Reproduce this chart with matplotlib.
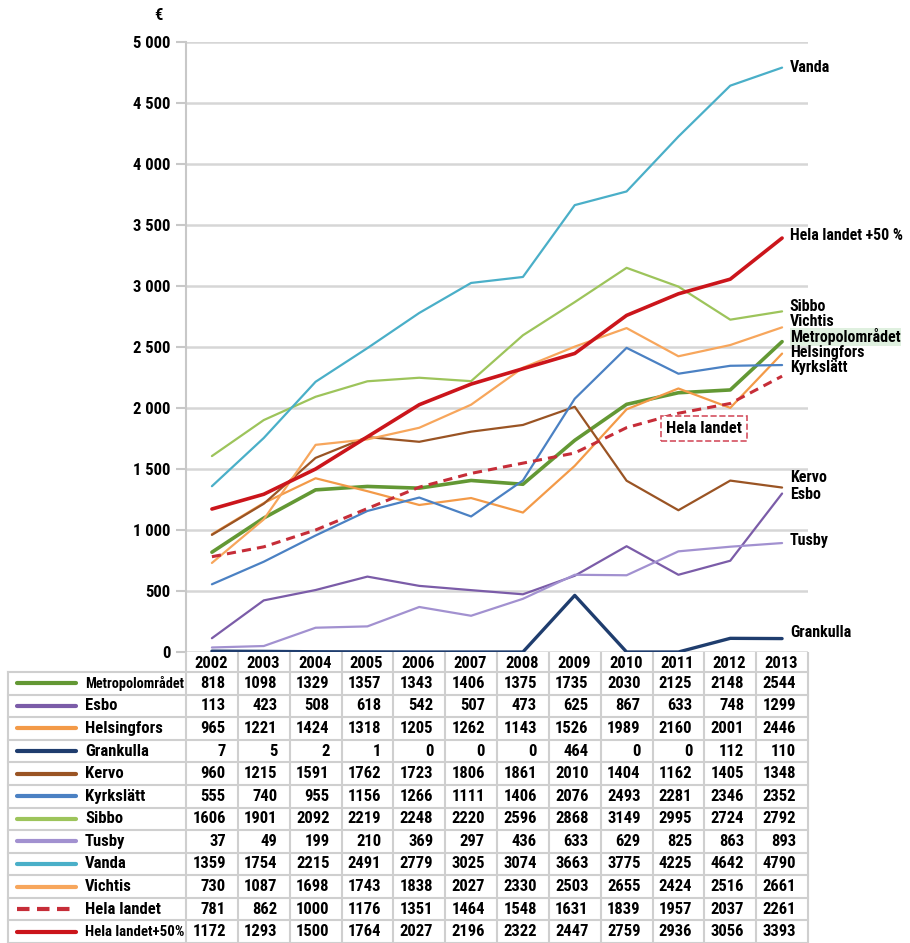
import numpy as np
import matplotlib.pyplot as plt
from matplotlib import font_manager
from matplotlib.lines import Line2D

# pick the narrowest sans family that is installed
have = {f.name for f in font_manager.fontManager.ttflist}
main_font = 'DejaVu Sans'
for cand in ['Liberation Sans Narrow', 'Roboto Condensed', 'DejaVu Sans Condensed',
             'Open Sans Condensed', 'Roboto']:
    if cand in have:
        main_font = cand
        break
FONT = [main_font, 'DejaVu Sans']
plt.rcParams['font.family'] = FONT
plt.rcParams['font.weight'] = 'bold'

years = list(range(2002, 2014))

# yearly values per municipality (€)
metro = [818, 1098, 1329, 1357, 1343, 1406, 1375, 1735, 2030, 2125, 2148, 2544]
esbo = [113, 423, 508, 618, 542, 507, 473, 625, 867, 633, 748, 1299]
helsingfors = [965, 1221, 1424, 1318, 1205, 1262, 1143, 1526, 1989, 2160, 2001, 2446]
grankulla = [7, 5, 2, 1, 0, 0, 0, 464, 0, 0, 112, 110]
kervo = [960, 1215, 1591, 1762, 1723, 1806, 1861, 2010, 1404, 1162, 1405, 1348]
kyrkslatt = [555, 740, 955, 1156, 1266, 1111, 1406, 2076, 2493, 2281, 2346, 2352]
sibbo = [1606, 1901, 2092, 2219, 2248, 2220, 2596, 2868, 3149, 2995, 2724, 2792]
tusby = [37, 49, 199, 210, 369, 297, 436, 633, 629, 825, 863, 893]
vanda = [1359, 1754, 2215, 2491, 2779, 3025, 3074, 3663, 3775, 4225, 4642, 4790]
vichtis = [730, 1087, 1698, 1743, 1838, 2027, 2330, 2503, 2655, 2424, 2516, 2661]
hela = [781, 862, 1000, 1176, 1351, 1464, 1548, 1631, 1839, 1957, 2037, 2261]
hela50 = [1172, 1293, 1500, 1764, 2027, 2196, 2322, 2447, 2759, 2936, 3056, 3393]

names = ["Metropolområdet", "Esbo", "Helsingfors", "Grankulla", "Kervo", "Kyrkslätt",
         "Sibbo", "Tusby", "Vanda", "Vichtis", "Hela landet", "Hela landet+50%"]
values = [metro, esbo, helsingfors, grankulla, kervo, kyrkslatt,
          sibbo, tusby, vanda, vichtis, hela, hela50]

colors = ['#639834', '#7b5ca8', '#f39a48', '#1f3d6e', '#9a5424', '#4b81c3',
          '#9dc45b', '#a291d0', '#4aafc8', '#f7a65c', '#c62d38', '#cb151b']
styles = ['-'] * 10 + ['--', '-']
widths = [2.6, 1.6, 1.6, 2.4, 1.6, 1.6, 1.6, 1.6, 1.6, 1.6, 2.2, 2.6]

# end labels on the right side of the chart: (text, y position)
end_labels = [("Vanda", 4795), ("Hela landet +50 %", 3418), ("Sibbo", 2836),
              ("Vichtis", 2710), ("Metropolområdet", 2582), ("Helsingfors", 2455),
              ("Kyrkslätt", 2328), ("Kervo", 1434), ("Esbo", 1295),
              ("Tusby", 910), ("Grankulla", 156)]

W, H = 910, 943
fig = plt.figure(figsize=(W / 100, H / 100), dpi=100)
renderer = fig.canvas.get_renderer()


def fit(t, max_px):
    # shrink a text until it fits in max_px pixels
    w = t.get_window_extent(renderer).width
    if w > max_px:
        t.set_fontsize(t.get_fontsize() * max_px / w)


ax = fig.add_axes([186 / W, 291 / H, 622 / W, 610 / H])

order = [7, 1, 3, 5, 4, 2, 9, 6, 8, 0, 10, 11]
for i in order:
    line, = ax.plot(years, values[i], color=colors[i], ls=styles[i], lw=widths[i],
                    solid_capstyle='round', zorder=3 + i * 0.1)
    if styles[i] == '--':
        line.set_dashes((3, 2))

ax.set_xlim(2001.5, 2013.5)
ax.set_ylim(0, 5000)
yt = list(range(0, 5001, 500))
ax.set_yticks(yt)
ax.set_yticklabels([f"{v:,}".replace(",", " ") for v in yt], fontsize=12,
                   fontweight='bold', family=FONT)
ax.set_xticks([])
ax.yaxis.grid(True, color='#d6d6d6', lw=1.8, zorder=0)
ax.set_axisbelow(True)
for s in ['top', 'right', 'bottom']:
    ax.spines[s].set_visible(False)
ax.spines['left'].set_color('#c8c8c8')
ax.spines['left'].set_linewidth(1.5)
ax.tick_params(axis='y', length=7, color='#c8c8c8', width=1.5, pad=4)

fig.text(158 / W, 1 - 15 / H, "€", fontsize=12, fontweight='bold', ha='center', va='center')

for txt, yv in end_labels:
    kw = {}
    if txt == "Metropolområdet":
        kw['bbox'] = dict(boxstyle='square,pad=0.02', fc='#dff0df', ec='none')
    t = ax.text(2013.15, yv, txt, fontsize=11.5, fontweight='bold', ha='left', va='center',
                clip_on=False, **kw)
    fit(t, 114)

t = ax.text(2011.5, 1836, "Hela landet", fontsize=12, fontweight='bold', ha='center',
            va='center', zorder=10,
            bbox=dict(boxstyle='square,pad=0.3', fc='white', ec='#d45060', ls='--', lw=1.2))
fit(t, 78)

# data table under the chart
tax = fig.add_axes([0, 0, 1, 291 / H])
tax.set_xlim(0, W)
tax.set_ylim(291, 0)
tax.axis('off')

col_w = 622 / 12
head_h = 20
row_h = (291 - head_h) / len(names)
grid_kw = dict(color='#cfcfcf', lw=1.5)

for k in range(13):
    xb = 186 + k * col_w
    tax.add_line(Line2D([xb, xb], [0, 291], **grid_kw))
tax.add_line(Line2D([8, 8], [head_h, 291], **grid_kw))
for r in range(len(names) + 1):
    yb = head_h + r * row_h
    tax.add_line(Line2D([8, 808], [yb, yb], **grid_kw))

for j, yr in enumerate(years):
    t = tax.text(186 + (j + 1) * col_w - 10, head_h / 2 + 1, str(yr), fontsize=12,
                 fontweight='bold', ha='right', va='center')
    fit(t, 40)

for r, (name, vals) in enumerate(zip(names, values)):
    yc = head_h + (r + 0.5) * row_h
    ln = Line2D([17, 76], [yc, yc], color=colors[r], lw=3, ls=styles[r],
                solid_capstyle='round')
    if styles[r] == '--':
        ln.set_dashes((3, 1.8))
    tax.add_line(ln)
    t = tax.text(85, yc, name, fontsize=12, fontweight='bold', ha='left', va='center')
    fit(t, 99)
    for j, v in enumerate(vals):
        t = tax.text(186 + (j + 1) * col_w - 12, yc, str(v), fontsize=12,
                     fontweight='bold', ha='right', va='center')
        fit(t, 38)

fig.savefig("out.png", dpi=100)
